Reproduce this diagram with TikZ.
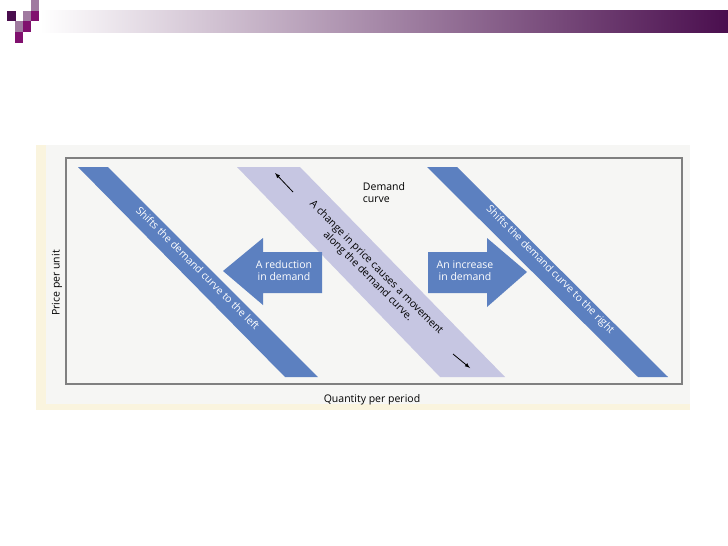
\documentclass[tikz,border=0pt]{standalone}
\usepackage{fontspec}
\setmainfont{Open Sans}
\definecolor{bandblue}{RGB}{92,128,192}
\definecolor{bandlilac}{RGB}{198,198,226}
\definecolor{panelgray}{RGB}{246,246,244}
\definecolor{paneledge}{RGB}{250,244,222}
\definecolor{slidepurple}{RGB}{74,14,78}
\definecolor{slidemagenta}{RGB}{128,16,110}
\definecolor{slidemauve}{RGB}{160,122,160}
\usetikzlibrary{positioning}

\begin{document}
\begin{tikzpicture}[x=1pt,y=-1pt]
	 \tikzstyle{label}=[font=\fontsize{10.5}{12}\selectfont,align=center,inner sep=0pt]
	 \tikzstyle{bandtext}=[label,white,rotate=-45]
	 \tikzstyle{band}=[fill=bandblue]
	 \tikzstyle{bigarrow}=[fill=bandblue]
	 \tikzstyle{small arrow}=[draw,thick,-latex,black]
	 \useasboundingbox (0,0) rectangle (728,546);
	 % slide header
	 \shade[left color=white,right color=slidepurple] (40,10) rectangle (728,32);
	 \fill[slidepurple] (7,11) rectangle (16,21);
	 \fill[slidemauve] (31,0) rectangle (39,11);
	 \fill[slidemauve] (23,11) rectangle (31,21);
	 \fill[slidemagenta] (31,11) rectangle (39,21);
	 \fill[slidemauve] (15,21) rectangle (23,32);
	 \fill[slidemagenta] (23,21) rectangle (31,32);
	 \fill[slidemagenta] (15,32) rectangle (23,43);
	 % panel and frame
	 \fill[paneledge] (36,145) rectangle (690,410);
	 \fill[panelgray] (46,145) rectangle (690,404);
	 \draw[gray,line width=1.2pt] (66,158) rectangle (682,384);
	 % bands
	 \fill[band] (78,167) -- (108,167) -- (318,377) -- (285,377) -- cycle;
	 \fill[bandlilac] (237,167) -- (300,167) -- (505,377) -- (440,377) -- cycle;
	 \fill[band] (427,167) -- (457,167) -- (668,377) -- (638,377) -- cycle;
	 % shift arrows
	 \fill[bigarrow] (322,252) -- (263,252) -- (263,238) -- (223,271) -- (263,305) -- (263,293) -- (322,293) -- cycle;
	 \fill[bigarrow] (428,252) -- (487,252) -- (487,238) -- (527,272) -- (487,307) -- (487,293) -- (428,293) -- cycle;
	 \node[label,white] (reduction) at (284,271) {A reduction\\in demand};
	 \node[label,white] (increase) at (465,271) {An increase\\in demand};
	 % movement along the curve
	 \coordinate (up0) at (293,192);
	 \coordinate (up1) at (275,173);
	 \coordinate (dn0) at (453,354);
	 \coordinate (dn1) at (470,368);
	 \draw[small arrow] (up0) -- (up1);
	 \draw[small arrow] (dn0) -- (dn1);
	 \node[label,rotate=-45] (movement) at (372,272) {A change in price causes a movement\\along the demand curve.};
	 \node[bandtext] (left) at (198,268) {Shifts the demand curve to the left};
	 \node[bandtext] (right) at (550,270) {Shifts the demand curve to the right};
	 \node[label,align=left] (curve) at (384,193) {Demand\\curve};
	 % axes
	 \node[label,rotate=90] (price) at (57,283) {Price per unit};
	 \node[label] (quantity) at (372,400) {Quantity per period};
\end{tikzpicture}
\end{document}
